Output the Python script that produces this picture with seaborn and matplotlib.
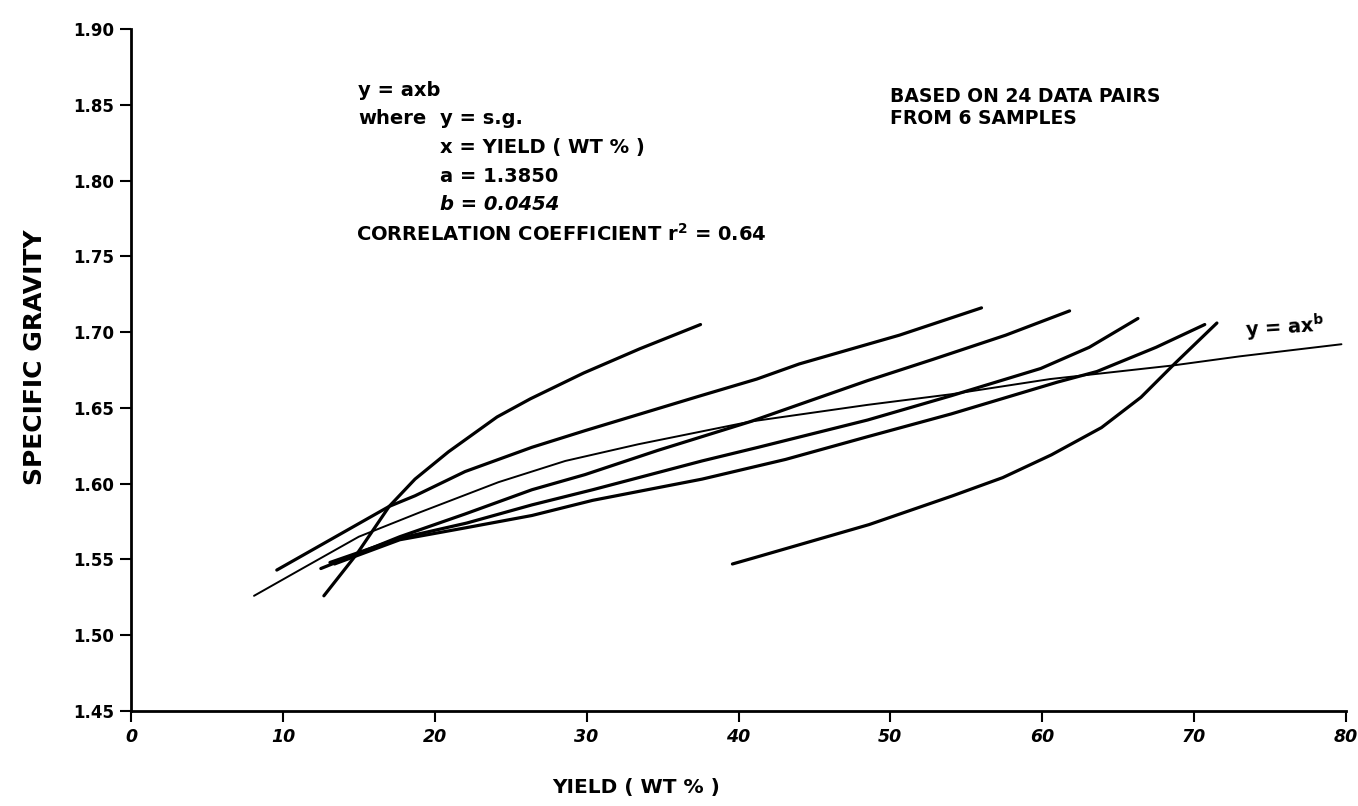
import pandas as pd
import matplotlib.pyplot as plt
import seaborn as sns

# Curves (yield wt %, specific gravity)
a_x = [12.7, 14.9, 17.0, 18.7, 20.9, 24.1, 26.3, 29.8, 33.5, 37.5]
a_y = [1.526, 1.554, 1.585, 1.603, 1.621, 1.644, 1.656, 1.673, 1.689, 1.705]

b_x = [9.6, 17.0, 18.7, 22.0, 26.4, 29.9, 37.5, 41.2, 44.0, 50.6, 56.0]
b_y = [1.543, 1.585, 1.592, 1.608, 1.624, 1.635, 1.658, 1.669, 1.679, 1.698, 1.716]

c_x = [12.5, 17.7, 22.0, 26.4, 29.9, 34.7, 40.8, 44.5, 48.5, 52.8, 57.6, 61.8]
c_y = [1.544, 1.565, 1.580, 1.596, 1.606, 1.622, 1.641, 1.654, 1.668, 1.682, 1.698, 1.714]

d_x = [13.1, 17.7, 22.1, 26.4, 30.4, 37.6, 41.3, 48.5, 54.0, 59.9, 63.1, 66.3]
d_y = [1.548, 1.564, 1.574, 1.586, 1.596, 1.615, 1.624, 1.642, 1.658, 1.676, 1.690, 1.709]

e_x = [13.4, 17.7, 22.1, 26.4, 30.4, 37.6, 43.1, 48.5, 54.0, 61.0, 63.6, 67.5, 70.7]
e_y = [1.547, 1.563, 1.571, 1.579, 1.589, 1.603, 1.616, 1.631, 1.646, 1.667, 1.674, 1.690, 1.705]

f_x = [39.6, 41.0, 48.6, 54.1, 57.4, 60.6, 63.9, 66.5, 68.7, 71.5]
f_y = [1.547, 1.551, 1.573, 1.592, 1.604, 1.619, 1.637, 1.657, 1.679, 1.706]

# fitted power curve y = a x^b
fit_x = [8.1, 11.1, 15.0, 19.0, 24.2, 28.6, 33.4, 40.8, 48.5, 54.0, 60.5, 68.6, 73.0, 79.7]
fit_y = [1.526, 1.543, 1.565, 1.581, 1.601, 1.615, 1.626, 1.641, 1.652, 1.659, 1.669, 1.678, 1.684, 1.692]

x_ticks = [0, 10, 20, 30, 40, 50, 60, 70, 80]
y_ticks = [1.45, 1.50, 1.55, 1.60, 1.65, 1.70, 1.75, 1.80, 1.85, 1.90]

samples = {'A': (a_x, a_y), 'B': (b_x, b_y), 'C': (c_x, c_y),
           'D': (d_x, d_y), 'E': (e_x, e_y), 'F': (f_x, f_y)}
sample_df = pd.concat([pd.DataFrame({'sample': k, 'x': v[0], 'y': v[1]})
                       for k, v in samples.items()], ignore_index=True)
fit_df = pd.DataFrame({'x': fit_x, 'y': fit_y})

sns.set_theme(style='ticks')
plt.rcParams['font.family'] = ['DejaVu Sans']
plt.rcParams['font.weight'] = 'bold'
for key in ['text.color', 'axes.labelcolor', 'xtick.color', 'ytick.color']:
    plt.rcParams[key] = 'black'

W, H = 1358, 806
fig = plt.figure(figsize=(W / 100, H / 100), dpi=100)
ax = fig.add_axes([131 / W, 1 - 711 / H, 1215 / W, 682 / H])

sns.lineplot(data=sample_df, x='x', y='y', units='sample', estimator=None,
             color='black', linewidth=2.3, ax=ax)
sns.lineplot(data=fit_df, x='x', y='y', color='black', linewidth=1.4, ax=ax)

ax.set_xlim(0, 80)
ax.set_ylim(1.45, 1.90)
ax.set_xticks(x_ticks)
ax.set_yticks(y_ticks)
ax.set_xticklabels([str(t) for t in x_ticks], fontsize=12.5, fontweight='bold',
                   fontstyle='italic')
ax.set_yticklabels([f'{t:.2f}' for t in y_ticks], fontsize=12, fontweight='bold')
ax.tick_params(direction='out', length=8, width=1.5, color='black', pad=4)
sns.despine(ax=ax)
for side in ['left', 'bottom']:
    ax.spines[side].set_linewidth(2)
    ax.spines[side].set_color('black')

ax.set_xlabel('YIELD ( WT % )', fontsize=14.5, fontweight='bold')
ax.set_ylabel('SPECIFIC GRAVITY', fontsize=18, fontweight='bold')
ax.xaxis.set_label_coords((636 - 131) / 1215, (711 - 788) / 682)
ax.xaxis.label.set_va('center')
ax.yaxis.set_label_coords((35 - 131) / 1215, (711 - 357) / 682)
ax.yaxis.label.set_va('center')

ax.text(73.3, 1.692, 'y = ax$^{\\mathbf{b}}$', fontsize=14, fontweight='bold',
        rotation=4, ha='left', va='bottom')


def ftext(px, py, s, size=14, **kw):
    fig.text(px / W, 1 - py / H, s, ha='left', va='center', fontsize=size,
             fontweight='bold', **kw)


ftext(358, 90, 'y = axb')
ftext(358, 119, 'where')
ftext(440, 119, 'y = s.g.')
ftext(440, 148, 'x = YIELD ( WT % )')
ftext(440, 177, 'a = 1.3850')
ftext(440, 205, 'b = 0.0454', fontstyle='italic')
ftext(356, 234, 'CORRELATION COEFFICIENT r$^{\\mathbf{2}}$ = 0.64')
ftext(890, 96, 'BASED ON 24 DATA PAIRS', size=13.5)
ftext(890, 118, 'FROM 6 SAMPLES', size=13.5)

fig.savefig('out.png', dpi=100, facecolor='white')
